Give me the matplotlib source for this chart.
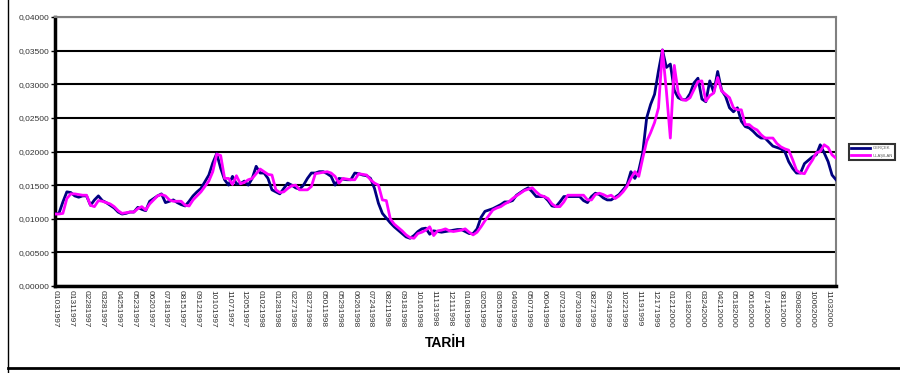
import matplotlib
matplotlib.use("Agg")
import matplotlib.pyplot as plt
from matplotlib.lines import Line2D
from matplotlib.ticker import MultipleLocator, FuncFormatter

plt.rcParams["font.family"] = ["Liberation Sans", "DejaVu Sans"]

# Weekly observations, Jan 1997 - Nov 2000
gercek = [
    0.0107, 0.0108, 0.0125, 0.0140, 0.0139, 0.0134, 0.0132, 0.0134, 0.0134, 0.0120,
    0.0128, 0.0134, 0.0127, 0.0124, 0.0120, 0.0116, 0.0110, 0.0107, 0.0108, 0.0110,
    0.0110, 0.0117, 0.0114, 0.0112, 0.0126, 0.0130, 0.0134, 0.0137, 0.0124, 0.0126,
    0.0128, 0.0124, 0.0121, 0.0119, 0.0126, 0.0134, 0.0140, 0.0145, 0.0155, 0.0165,
    0.0183, 0.0197, 0.0175, 0.0158, 0.0150, 0.0163, 0.0152, 0.0152, 0.0156, 0.0150,
    0.0160, 0.0178, 0.0168, 0.0168, 0.0160, 0.0143, 0.0140, 0.0137, 0.0145, 0.0153,
    0.0150, 0.0146, 0.0144, 0.0150, 0.0160, 0.0168, 0.0168, 0.0170, 0.0170, 0.0167,
    0.0163, 0.0150, 0.0160, 0.0159, 0.0158, 0.0158, 0.0168, 0.0167, 0.0165, 0.0164,
    0.0160, 0.0145, 0.0123, 0.0108, 0.0101, 0.0094, 0.0088, 0.0083, 0.0078, 0.0073,
    0.0071, 0.0075, 0.0081, 0.0085, 0.0086, 0.0077, 0.0082, 0.0081, 0.0080, 0.0081,
    0.0082, 0.0083, 0.0084, 0.0084, 0.0081, 0.0078, 0.0078, 0.0085, 0.0102, 0.0111,
    0.0113, 0.0115, 0.0118, 0.0121, 0.0125, 0.0125, 0.0127, 0.0135, 0.0139, 0.0143,
    0.0146, 0.0140, 0.0133, 0.0133, 0.0133, 0.0127, 0.0119, 0.0118, 0.0125, 0.0133,
    0.0133, 0.0133, 0.0133, 0.0133, 0.0127, 0.0124, 0.0133, 0.0138, 0.0136, 0.0131,
    0.0128, 0.0128, 0.0132, 0.0136, 0.0143, 0.0150, 0.0170, 0.0160, 0.0172, 0.0198,
    0.0250, 0.0270, 0.0285, 0.0320, 0.0351, 0.0325, 0.0330, 0.0291, 0.0280, 0.0277,
    0.0277, 0.0286, 0.0302, 0.0309, 0.0278, 0.0274, 0.0305, 0.0288, 0.0319, 0.0291,
    0.0282, 0.0265, 0.0259, 0.0265, 0.0245, 0.0237, 0.0235, 0.0230, 0.0224, 0.0220,
    0.0220, 0.0214, 0.0208, 0.0206, 0.0204, 0.0200, 0.0185, 0.0175, 0.0168, 0.0168,
    0.0182, 0.0187, 0.0192, 0.0195, 0.0210, 0.0198, 0.0185, 0.0165, 0.0158,
]

ulasilan = [
    0.0107, 0.0107, 0.0108, 0.0130, 0.0137, 0.0137, 0.0136, 0.0135, 0.0135, 0.0120,
    0.0118, 0.0127, 0.0126, 0.0124, 0.0122, 0.0118, 0.0112, 0.0108, 0.0109, 0.0110,
    0.0110, 0.0115, 0.0118, 0.0113, 0.0122, 0.0128, 0.0134, 0.0136, 0.0134, 0.0128,
    0.0126, 0.0126, 0.0126, 0.0120, 0.0119, 0.0128, 0.0134, 0.0140, 0.0148, 0.0156,
    0.0170, 0.0196, 0.0194, 0.0160, 0.0160, 0.0151, 0.0164, 0.0152, 0.0154, 0.0158,
    0.0160, 0.0167, 0.0174, 0.0170, 0.0166, 0.0165, 0.0143, 0.0139, 0.0140, 0.0145,
    0.0149, 0.0150, 0.0143, 0.0143, 0.0143, 0.0148, 0.0167, 0.0168, 0.0169, 0.0170,
    0.0168, 0.0163, 0.0153, 0.0160, 0.0159, 0.0158, 0.0158, 0.0167, 0.0166, 0.0165,
    0.0158, 0.0153, 0.0150, 0.0128, 0.0127, 0.0100, 0.0092, 0.0087, 0.0082, 0.0076,
    0.0072, 0.0071, 0.0078, 0.0080, 0.0083, 0.0088, 0.0075, 0.0082, 0.0083, 0.0085,
    0.0082, 0.0081, 0.0082, 0.0083, 0.0085, 0.0080, 0.0076, 0.0080, 0.0088, 0.0097,
    0.0105, 0.0113, 0.0116, 0.0118, 0.0122, 0.0125, 0.0130, 0.0134, 0.0138, 0.0142,
    0.0144, 0.0146, 0.0140, 0.0135, 0.0133, 0.0130, 0.0122, 0.0118, 0.0118, 0.0125,
    0.0135, 0.0135, 0.0135, 0.0135, 0.0135, 0.0128, 0.0128, 0.0136, 0.0138, 0.0136,
    0.0133, 0.0135, 0.0130, 0.0134, 0.0140, 0.0148, 0.0160, 0.0170, 0.0163, 0.0190,
    0.0215, 0.0228, 0.0243, 0.0265, 0.0351, 0.0290, 0.0220, 0.0328, 0.0287, 0.0277,
    0.0276, 0.0280, 0.0292, 0.0304, 0.0305, 0.0275, 0.0283, 0.0287, 0.0310, 0.0290,
    0.0285, 0.0280, 0.0265, 0.0262, 0.0262, 0.0240, 0.0240, 0.0235, 0.0232, 0.0225,
    0.0220, 0.0220, 0.0220, 0.0212, 0.0207, 0.0204, 0.0202, 0.0188, 0.0172, 0.0168,
    0.0167, 0.0178, 0.0187, 0.0198, 0.0200, 0.0210, 0.0206, 0.0195, 0.0190,
]

tarih_etiketleri = [
    "01031997", "01311997", "02281997", "03281997", "04251997", "05231997",
    "06201997", "07181997", "08151997", "09121997", "10101997", "11071997",
    "12051997", "01021998", "01281998", "02271998", "03271998", "05011998",
    "05291998", "06261998", "07241998", "08211998", "09181998", "10161998",
    "11131998", "12111998", "01081999", "02051999", "03051999", "04091999",
    "05071999", "06041999", "07021999", "07301999", "08271999", "09241999",
    "10221999", "11191999", "12171999", "01212000", "02182000", "03242000",
    "04212000", "05182000", "06162000", "07142000", "08112000", "09082000",
    "10062000", "11032000",
]

fig = plt.figure(figsize=(9.0, 3.73), dpi=100)
fig.patch.set_facecolor("white")

# chart frame (left and bottom edges)
fig.add_artist(Line2D([8 / 900, 8 / 900], [0.0, 1.0], transform=fig.transFigure,
                      color="black", lw=1.0))
fig.add_artist(Line2D([8 / 900, 1.0], [(373 - 368) / 373] * 2, transform=fig.transFigure,
                      color="black", lw=2.0))

ax = fig.add_axes([55 / 900, (373 - 286) / 373, (836 - 55) / 900, (286 - 17) / 373])

x = list(range(len(gercek)))
ax.plot(x, gercek, color="#000080", lw=2.0, label="GERÇEK", zorder=3)
ax.plot(x, ulasilan, color="#FF00FF", lw=2.0, label="ULAŞILAN", zorder=4)

ax.set_xlim(0, len(gercek) - 1)
ax.set_ylim(0, 0.04)
ax.yaxis.set_major_locator(MultipleLocator(0.005))
ax.yaxis.set_major_formatter(FuncFormatter(lambda v, p: f"{v:.5f}".replace(".", ",")))
ax.grid(axis="y", color="black", lw=1.5)
ax.set_axisbelow(True)

ax.set_xticks(list(range(0, 4 * len(tarih_etiketleri), 4)))
ax.set_xticklabels(tarih_etiketleri, rotation=-90, fontsize=6, color="#333333")
ax.tick_params(axis="x", length=0, pad=3)
ax.tick_params(axis="y", labelsize=6, length=3, width=1, direction="out", pad=1,
               labelcolor="#333333")

for side in ("top", "right"):
    ax.spines[side].set_color("#808080")
    ax.spines[side].set_linewidth(1.5)
for side in ("left", "bottom"):
    ax.spines[side].set_color("black")
    ax.spines[side].set_linewidth(2.5)

ax.set_xlabel("TARİH", fontsize=10, fontweight="bold", labelpad=6)

leg = fig.legend(loc="center", bbox_to_anchor=(872 / 900, (373 - 152) / 373),
                 fontsize=3, frameon=True, fancybox=False, handlelength=4.5,
                 labelspacing=0.9, borderpad=0.5, handletextpad=0.6)
leg.get_frame().set_edgecolor("black")
leg.get_frame().set_linewidth(1.5)
for t in leg.get_texts():
    t.set_color("#555555")

fig.savefig("out.png", dpi=100)
